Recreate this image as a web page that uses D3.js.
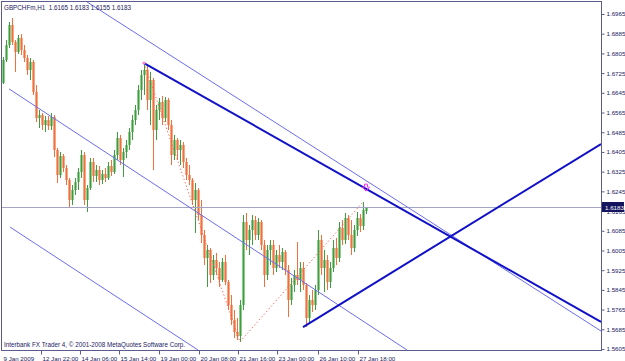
<!DOCTYPE html>
<html>
<head>
<meta charset="utf-8">
<script src="https://cdn.jsdelivr.net/npm/d3@7"></script>
<style>
body { margin: 0; background: #fff; }
text { font-family: "Liberation Sans", Arial, sans-serif; }
</style>
</head>
<body>
<div id="chart"></div>
<script>
// chart values
const symbolTitle = 'GBPCHFm,H1  1.6165 1.6183 1.6155 1.6183';
const copyright = 'Interbank FX Trader 4, \u00a9 2001-2008 MetaQuotes Software Corp.';
const lastPrice = 1.6183;

const priceTicks = [1.6965, 1.6885, 1.6805, 1.6725, 1.6645, 1.6565, 1.6485, 1.6405, 1.6325,
    1.6245, 1.6165, 1.6085, 1.6005, 1.5925, 1.5845, 1.5765, 1.5685, 1.5605];

const timeLabels = ['9 Jan 2009', '12 Jan 22:00', '14 Jan 06:00', '15 Jan 14:00', '19 Jan 00:00',
    '20 Jan 08:00', '21 Jan 16:00', '23 Jan 00:00', '26 Jan 10:00', '27 Jan 18:00'];
const timeBars = [-0.33, 12.67, 25.67, 38.67, 52, 65.33, 78.33, 91.33, 105, 118.33];

// open, high, low, close
const candles = [
    [1.6685, 1.6791, 1.6681, 1.6778], [1.6778, 1.6860, 1.6770, 1.6839], [1.6839, 1.6933, 1.6827, 1.6920],
    [1.6920, 1.6949, 1.6839, 1.6851], [1.6851, 1.6860, 1.6730, 1.6811], [1.6811, 1.6880, 1.6803, 1.6868],
    [1.6868, 1.6884, 1.6799, 1.6819], [1.6819, 1.6839, 1.6770, 1.6786], [1.6786, 1.6799, 1.6717, 1.6738],
    [1.6738, 1.6786, 1.6697, 1.6770], [1.6770, 1.6778, 1.6636, 1.6648], [1.6648, 1.6677, 1.6527, 1.6543],
    [1.6543, 1.6575, 1.6502, 1.6555], [1.6555, 1.6563, 1.6494, 1.6515], [1.6515, 1.6551, 1.6486, 1.6535],
    [1.6535, 1.6551, 1.6494, 1.6510], [1.6510, 1.6563, 1.6494, 1.6547], [1.6547, 1.6555, 1.6385, 1.6413],
    [1.6413, 1.6421, 1.6279, 1.6312], [1.6312, 1.6405, 1.6299, 1.6389], [1.6389, 1.6397, 1.6324, 1.6340],
    [1.6340, 1.6352, 1.6271, 1.6291], [1.6291, 1.6299, 1.6182, 1.6210], [1.6210, 1.6271, 1.6190, 1.6251],
    [1.6251, 1.6299, 1.6230, 1.6283], [1.6283, 1.6340, 1.6251, 1.6324], [1.6324, 1.6413, 1.6299, 1.6393],
    [1.6393, 1.6405, 1.6190, 1.6210], [1.6210, 1.6271, 1.6161, 1.6259], [1.6259, 1.6381, 1.6251, 1.6364],
    [1.6364, 1.6381, 1.6283, 1.6307], [1.6307, 1.6352, 1.6283, 1.6332], [1.6332, 1.6348, 1.6271, 1.6291],
    [1.6291, 1.6332, 1.6275, 1.6316], [1.6316, 1.6340, 1.6283, 1.6299], [1.6299, 1.6364, 1.6291, 1.6348],
    [1.6348, 1.6372, 1.6307, 1.6324], [1.6324, 1.6413, 1.6316, 1.6393], [1.6393, 1.6486, 1.6372, 1.6462],
    [1.6462, 1.6474, 1.6352, 1.6372], [1.6372, 1.6421, 1.6303, 1.6405], [1.6405, 1.6454, 1.6381, 1.6433],
    [1.6433, 1.6502, 1.6413, 1.6486], [1.6486, 1.6555, 1.6454, 1.6535], [1.6535, 1.6596, 1.6515, 1.6575],
    [1.6575, 1.6677, 1.6555, 1.6657], [1.6657, 1.6738, 1.6616, 1.6717], [1.6717, 1.6766, 1.6636, 1.6738],
    [1.6738, 1.6754, 1.6575, 1.6616], [1.6616, 1.6730, 1.6515, 1.6697], [1.6697, 1.6705, 1.6332, 1.6494],
    [1.6494, 1.6596, 1.6454, 1.6575], [1.6575, 1.6624, 1.6535, 1.6608], [1.6608, 1.6632, 1.6515, 1.6543],
    [1.6543, 1.6628, 1.6527, 1.6616], [1.6616, 1.6624, 1.6494, 1.6515], [1.6515, 1.6535, 1.6352, 1.6393],
    [1.6393, 1.6474, 1.6372, 1.6454], [1.6454, 1.6462, 1.6372, 1.6413], [1.6413, 1.6454, 1.6352, 1.6433],
    [1.6433, 1.6446, 1.6340, 1.6364], [1.6364, 1.6381, 1.6291, 1.6312], [1.6312, 1.6352, 1.6271, 1.6291],
    [1.6291, 1.6299, 1.6190, 1.6210], [1.6210, 1.6279, 1.6076, 1.6251], [1.6251, 1.6259, 1.6129, 1.6149],
    [1.6149, 1.6210, 1.6035, 1.6068], [1.6068, 1.6088, 1.5946, 1.5975], [1.5975, 1.6027, 1.5857, 1.6007],
    [1.6007, 1.6015, 1.5873, 1.5906], [1.5906, 1.5987, 1.5885, 1.5966], [1.5966, 1.5995, 1.5906, 1.5934],
    [1.5934, 1.5958, 1.5857, 1.5885], [1.5885, 1.5975, 1.5877, 1.5958], [1.5958, 1.5987, 1.5865, 1.5877],
    [1.5877, 1.5885, 1.5763, 1.5784], [1.5784, 1.5824, 1.5703, 1.5723], [1.5723, 1.5763, 1.5650, 1.5674],
    [1.5674, 1.5731, 1.5642, 1.5658], [1.5658, 1.5804, 1.5634, 1.5784], [1.5784, 1.6149, 1.5763, 1.6121],
    [1.6121, 1.6157, 1.6007, 1.6048], [1.6048, 1.6109, 1.5987, 1.6088], [1.6088, 1.6149, 1.6027, 1.6129],
    [1.6129, 1.6145, 1.6048, 1.6068], [1.6068, 1.6137, 1.6048, 1.6121], [1.6121, 1.6129, 1.6007, 1.6027],
    [1.6027, 1.6048, 1.5857, 1.5906], [1.5906, 1.6027, 1.5885, 1.6007], [1.6007, 1.6048, 1.5946, 1.6027],
    [1.6027, 1.6048, 1.5906, 1.5934], [1.5934, 1.6007, 1.5918, 1.5987], [1.5987, 1.6027, 1.5934, 1.5958],
    [1.5958, 1.6015, 1.5926, 1.5999], [1.5999, 1.6007, 1.5906, 1.5926], [1.5926, 1.5946, 1.5735, 1.5804],
    [1.5804, 1.5893, 1.5784, 1.5865], [1.5865, 1.5926, 1.5837, 1.5906], [1.5906, 1.6040, 1.5865, 1.5885],
    [1.5885, 1.5958, 1.5837, 1.5934], [1.5934, 1.5958, 1.5845, 1.5865], [1.5865, 1.5873, 1.5694, 1.5731],
    [1.5731, 1.5824, 1.5715, 1.5804], [1.5804, 1.5845, 1.5755, 1.5784], [1.5784, 1.5865, 1.5763, 1.5845],
    [1.5845, 1.6088, 1.5824, 1.6048], [1.6048, 1.6068, 1.5906, 1.5934], [1.5934, 1.6007, 1.5837, 1.5966],
    [1.5966, 1.5987, 1.5845, 1.5877], [1.5877, 1.5958, 1.5853, 1.5934], [1.5934, 1.6048, 1.5918, 1.6015],
    [1.6015, 1.6056, 1.5946, 1.5975], [1.5975, 1.6121, 1.5958, 1.6096], [1.6096, 1.6129, 1.6027, 1.6048],
    [1.6048, 1.6157, 1.6031, 1.6137], [1.6137, 1.6149, 1.6048, 1.6068], [1.6068, 1.6129, 1.5987, 1.6015],
    [1.6015, 1.6109, 1.5999, 1.6088], [1.6088, 1.6161, 1.6064, 1.6137], [1.6137, 1.6153, 1.6080, 1.6104],
    [1.6104, 1.6202, 1.6088, 1.6169], [1.6165, 1.6183, 1.6155, 1.6183]
];

// drawn objects as [bar, price] pairs
const channelLines = [
    [[28, 1.7014], [199.33, 1.5678]],
    [[2, 1.6661], [134.67, 1.5601]],
    [[2.33, 1.6100], [65, 1.5601]]
];
const trendLines = [
    [[47, 1.6766], [199.33, 1.5715]],
    [[100, 1.5694], [199.33, 1.6437]]
];
const zigzag = [[47, 1.6766], [79, 1.5634], [120, 1.6202]];
const arrowMark = [121, 1.6258];

let width = 625,
    height = 361,
    pL = 2, pT = 2, pR = 601, pB = 350,
    txt = '#22225e',
    svg = d3.select('#chart').append('svg')
        .attr('width', width)
        .attr('height', height);

let x = d3.scaleLinear().domain([0, 121]).range([3, 366]);
let y = d3.scaleLinear().domain([1.5605, 1.6965]).range([349, 14]);

svg.append('defs').append('clipPath').attr('id', 'plot')
    .append('rect').attr('x', pL).attr('y', pT)
    .attr('width', pR - pL).attr('height', pB - pT);

// frame
svg.append('rect')
    .attr('x', pL - 0.5).attr('y', pT - 0.5)
    .attr('width', pR - pL + 1).attr('height', pB - pT + 1)
    .attr('fill', 'none').attr('stroke', '#5c5c8c');

let plot = svg.append('g').attr('clip-path', 'url(#plot)');

// candles
let bars = plot.append('g').attr('shape-rendering', 'crispEdges')
    .selectAll('g').data(candles).enter().append('g');

bars.append('rect')
    .attr('x', (d, i) => Math.round(x(i)) - 1)
    .attr('y', d => y(Math.max(d[0], d[3])))
    .attr('width', 3)
    .attr('height', d => Math.max(1, y(Math.min(d[0], d[3])) - y(Math.max(d[0], d[3]))))
    .attr('fill', d => d[3] >= d[0] ? '#90cc90' : '#f6a886');

bars.append('line')
    .attr('x1', (d, i) => Math.round(x(i)) + 0.5)
    .attr('x2', (d, i) => Math.round(x(i)) + 0.5)
    .attr('y1', d => y(d[1]))
    .attr('y2', d => y(d[2]))
    .attr('stroke', d => d[3] >= d[0] ? '#3f9c3f' : '#f26e3c')
    .attr('stroke-width', 1);

// last price line
plot.append('line')
    .attr('x1', pL).attr('x2', pR)
    .attr('y1', Math.round(y(lastPrice)) + 0.5).attr('y2', Math.round(y(lastPrice)) + 0.5)
    .attr('stroke', '#a4a4c4').attr('stroke-width', 1);

let line = d3.line().x(d => x(d[0])).y(d => y(d[1]));

plot.selectAll('.chan').data(channelLines).enter().append('path')
    .attr('d', line).attr('fill', 'none')
    .attr('stroke', '#6c6cf2').attr('stroke-width', 1);

plot.append('path').datum(zigzag)
    .attr('d', line).attr('fill', 'none')
    .attr('stroke', '#ff5a4a').attr('stroke-width', 1)
    .attr('stroke-dasharray', '1.2,2.4');

plot.selectAll('.trend').data(trendLines).enter().append('path')
    .attr('d', line).attr('fill', 'none')
    .attr('stroke', '#1010c8').attr('stroke-width', 2);

// markers
plot.append('circle')
    .attr('cx', x(zigzag[0][0])).attr('cy', y(zigzag[0][1]))
    .attr('r', 1.6).attr('fill', '#ff80c0');

plot.append('path')
    .attr('transform', 'translate(' + x(arrowMark[0]) + ',' + y(arrowMark[1]) + ')')
    .attr('d', 'M-1.5,-4 h3 v3 h2 l-3.5,4 l-3.5,-4 h2 z')
    .attr('fill', 'none').attr('stroke', '#ff30ff').attr('stroke-width', 1);

// price axis
let yAxis = svg.append('g')
    .attr('transform', 'translate(' + (pR + 0.5) + ',0)')
    .call(d3.axisRight(y).tickValues(priceTicks).tickFormat(d3.format('.4f')).tickSize(3).tickPadding(2));
yAxis.select('.domain').remove();
yAxis.selectAll('line').attr('stroke', '#5c5c8c');
yAxis.selectAll('text').attr('fill', txt).attr('font-size', '6.2px').attr('font-family', '"Liberation Sans", Arial, sans-serif');

// time axis
let xAxis = svg.append('g')
    .attr('transform', 'translate(0,' + (pB + 0.5) + ')')
    .call(d3.axisBottom(x).tickValues(timeBars).tickFormat((d, i) => timeLabels[i]).tickSize(4).tickPadding(2));
xAxis.select('.domain').remove();
xAxis.selectAll('line').attr('stroke', '#5c5c8c').filter((d, i) => i === 0).remove();
xAxis.selectAll('text')
    .attr('text-anchor', 'start').attr('dx', 1)
    .attr('fill', txt).attr('font-size', '6.2px').attr('font-family', '"Liberation Sans", Arial, sans-serif');

// current price label
let py = Math.round(y(lastPrice));
svg.append('rect')
    .attr('x', pR + 1).attr('y', py - 5)
    .attr('width', 22).attr('height', 10)
    .attr('fill', '#14145e');
svg.append('text')
    .attr('x', pR + 4).attr('y', py + 2.5)
    .attr('fill', '#fff').attr('font-size', '6.2px')
    .text(d3.format('.4f')(lastPrice));

// texts
svg.append('text').attr('x', 4).attr('y', 9.5)
    .attr('fill', txt).attr('font-size', '6.3px')
    .style('white-space', 'pre')
    .text(symbolTitle);

svg.append('text').attr('x', 4).attr('y', 347)
    .attr('fill', txt).attr('font-size', '6.3px')
    .text(copyright);
</script>
</body>
</html>
